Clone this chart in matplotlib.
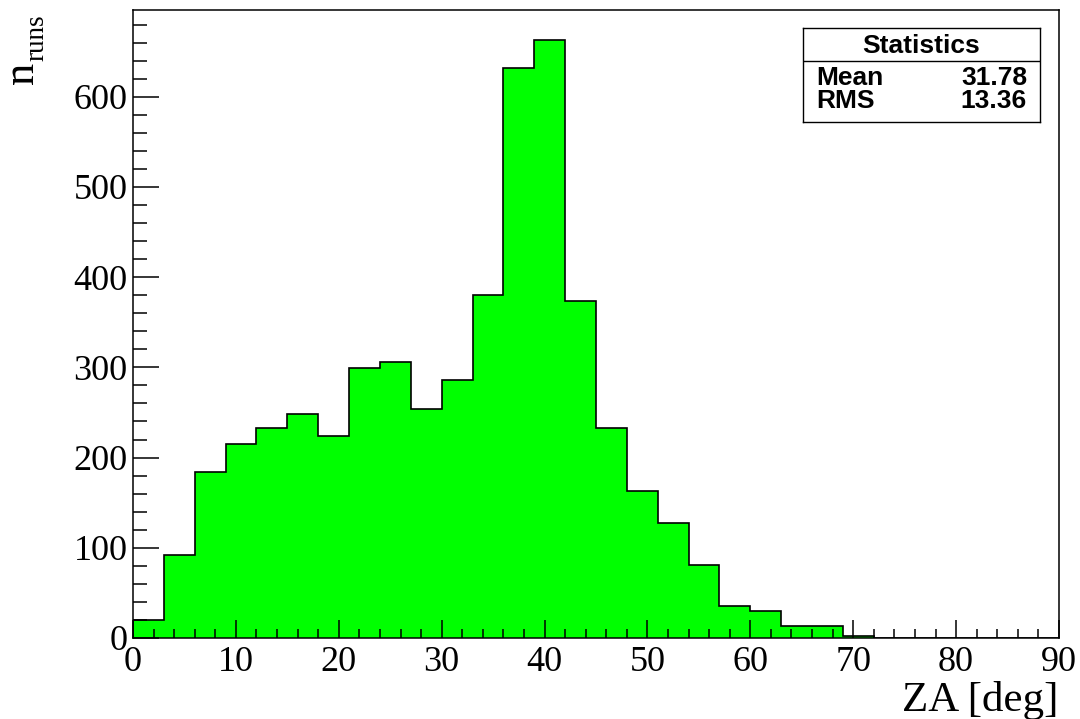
import numpy as np
import matplotlib
matplotlib.use("Agg")
import matplotlib.pyplot as plt
from matplotlib.ticker import MultipleLocator

plt.rcParams['font.family'] = ['Liberation Serif', 'DejaVu Serif']

# zenith angle histogram, 3 deg bins from 0 to 90
bin_edges = np.arange(0, 93, 3)
counts = [20, 92, 184, 215, 233, 248, 224, 299, 306, 254,
          286, 380, 632, 663, 374, 233, 163, 128, 81, 35,
          30, 13, 13, 2, 0, 0, 0, 0, 0, 0]
stat_names = ['Mean', 'RMS']
stat_values = ['31.78', '13.36']

W, H = 1080, 719
fig = plt.figure(figsize=(W / 100, H / 100), dpi=100)
ax = fig.add_axes([133 / W, 1 - 638 / H, (1059 - 133) / W, (638 - 10) / H])

ax.stairs(counts, bin_edges, fill=True, color='#00ff00', zorder=1)
ax.stairs(counts, bin_edges, color='black', lw=1.2, zorder=2)

ax.set_xlim(0, 90)
ax.set_ylim(0, 1.05 * max(counts))

ax.xaxis.set_major_locator(MultipleLocator(10))
ax.xaxis.set_minor_locator(MultipleLocator(2))
ax.yaxis.set_major_locator(MultipleLocator(100))
ax.yaxis.set_minor_locator(MultipleLocator(20))
ax.tick_params(axis='both', which='both', direction='in', width=1.1,
               labelsize=26, top=False, right=False)
ax.tick_params(axis='y', which='major', length=18.5, pad=4)
ax.tick_params(axis='y', which='minor', length=10)
ax.tick_params(axis='x', which='major', length=13, pad=6)
ax.tick_params(axis='x', which='minor', length=6.5)
for s in ax.spines.values():
    s.set_linewidth(1.1)
    s.set_zorder(3)

fig.text(1059 / W, (H - 711) / H, 'ZA [deg]', fontsize=31,
         ha='right', va='baseline')
# y title: "n" with a lowered "runs" subscript, written bottom to top
fig.text(33 / W, (H - 84) / H, 'n', fontsize=32, rotation=90,
         rotation_mode='anchor', ha='left', va='baseline')
fig.text(43 / W, (H - 61) / H, 'runs', fontsize=19.5, rotation=90,
         rotation_mode='anchor', ha='left', va='baseline')

# statistics box
sb = fig.add_axes([803 / W, 1 - 122 / H, 237 / W, 94 / H])
sb.set_xticks([])
sb.set_yticks([])
sb.set_xlim(0, 1)
sb.set_ylim(0, 1)
for s in sb.spines.values():
    s.set_linewidth(1.0)
sb.axhline(1 - 33 / 94, color='black', lw=1.0)
sans = ['Liberation Sans', 'DejaVu Sans']
sb.text(0.5, 1 - 25 / 94, 'Statistics', family=sans, weight='bold',
        fontsize=19, ha='center', va='baseline')
for i, (name, val) in enumerate(zip(stat_names, stat_values)):
    yb = 1 - (57 + 23.3 * i) / 94
    sb.text(13 / 237, yb, name, family=sans, weight='bold',
            fontsize=19, ha='left', va='baseline')
    sb.text(224 / 237, yb, val, family=sans, weight='bold',
            fontsize=19, ha='right', va='baseline')

fig.savefig('out.png', dpi=100)
